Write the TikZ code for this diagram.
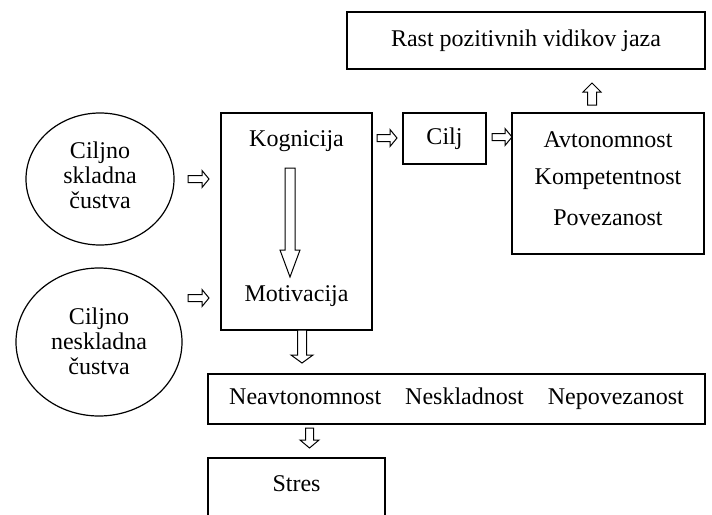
\documentclass[tikz,border=0pt]{standalone}
\usepackage{fontspec}
\setmainfont{Liberation Serif}
\usetikzlibrary{shapes.geometric}
\tikzset{
  box/.style={draw, rectangle, line width=1.2pt, inner sep=0pt, font=\fontsize{24pt}{25pt}\selectfont},
  txt/.style={inner sep=0pt, font=\fontsize{24pt}{25pt}\selectfont},
  elltxt/.style={inner sep=0pt, align=center, font=\fontsize{24pt}{25pt}\selectfont},
  ell/.style={draw, ellipse, line width=1.2pt, inner sep=0pt},
  arrowline/.style={draw, line width=1pt, fill=white, line join=miter}
}
% #1 start point, #2 angle, #3 length, #4 shaft width, #5 head width, #6 head length
\newcommand{\blkarrow}[6]{%
  \draw[arrowline, shift={#1}, rotate=#2] (0,{-#4/2}) -- ({#3-#6},{-#4/2}) -- ({#3-#6},{-#5/2}) -- (#3,0) -- ({#3-#6},{#5/2}) -- ({#3-#6},{#4/2}) -- (0,{#4/2}) -- cycle;}
\begin{document}
\begin{tikzpicture}[x=1pt,y=-1pt]
\useasboundingbox (0,0) rectangle (712,514);
\clip (0,0) rectangle (712,514);
\fill[white] (0,0) rectangle (712,514);

\node[box, minimum width=358pt, minimum height=57pt] (rast) at (526,40.5) {Rast pozitivnih vidikov jaza};
\node[box, minimum width=83pt, minimum height=51pt] (cilj) at (444.5,138.5) {Cilj};
\node[box, minimum width=192pt, minimum height=141pt] (avt) at (608,183.5) {};
\node[txt] (avt1) at (608,140) {Avtonomnost};
\node[txt] (avt2) at (608,179) {Kompetentnost};
\node[txt] (avt3) at (608,218) {Povezanost};

\node[box, minimum width=151pt, minimum height=217pt] (kog) at (296.5,221.5) {};
\node[txt] (kogt) at (296.5,141) {Kognicija};
\node[txt] (mot) at (296.5,296) {Motivacija};

\node[box, minimum width=497pt, minimum height=50pt] (neav) at (456.5,399)
  {Neavtonomnost\hspace{24pt}Neskladnost\hspace{24pt}Nepovezanost};

\node[box, minimum width=177pt, minimum height=80pt] (stres) at (296.5,498) {};
\node[txt] (strest) at (296.5,484) {Stres};

\node[ell, minimum width=148pt, minimum height=132pt] (e1) at (100,179) {};
\node[elltxt] (e1t) at (100,175) {Ciljno\\skladna\\čustva};
\node[ell, minimum width=166pt, minimum height=148pt] (e2) at (99,342) {};
\node[elltxt] (e2t) at (99,341) {Ciljno\\neskladna\\čustva};

\blkarrow{(188,179)}{0}{21}{7}{17}{7}
\blkarrow{(188,298)}{0}{21}{7}{17}{7}
\blkarrow{(377,138)}{0}{20}{7}{17}{7}
\blkarrow{(492,137)}{0}{20}{7}{17}{7}
\blkarrow{(290,168)}{-90}{109}{10}{20}{27}
\blkarrow{(302,330)}{-90}{33}{9}{22}{8}
\blkarrow{(309.5,428)}{-90}{20}{8}{19}{8}
\blkarrow{(592,105)}{90}{22}{9}{18}{9}
\end{tikzpicture}
\end{document}
